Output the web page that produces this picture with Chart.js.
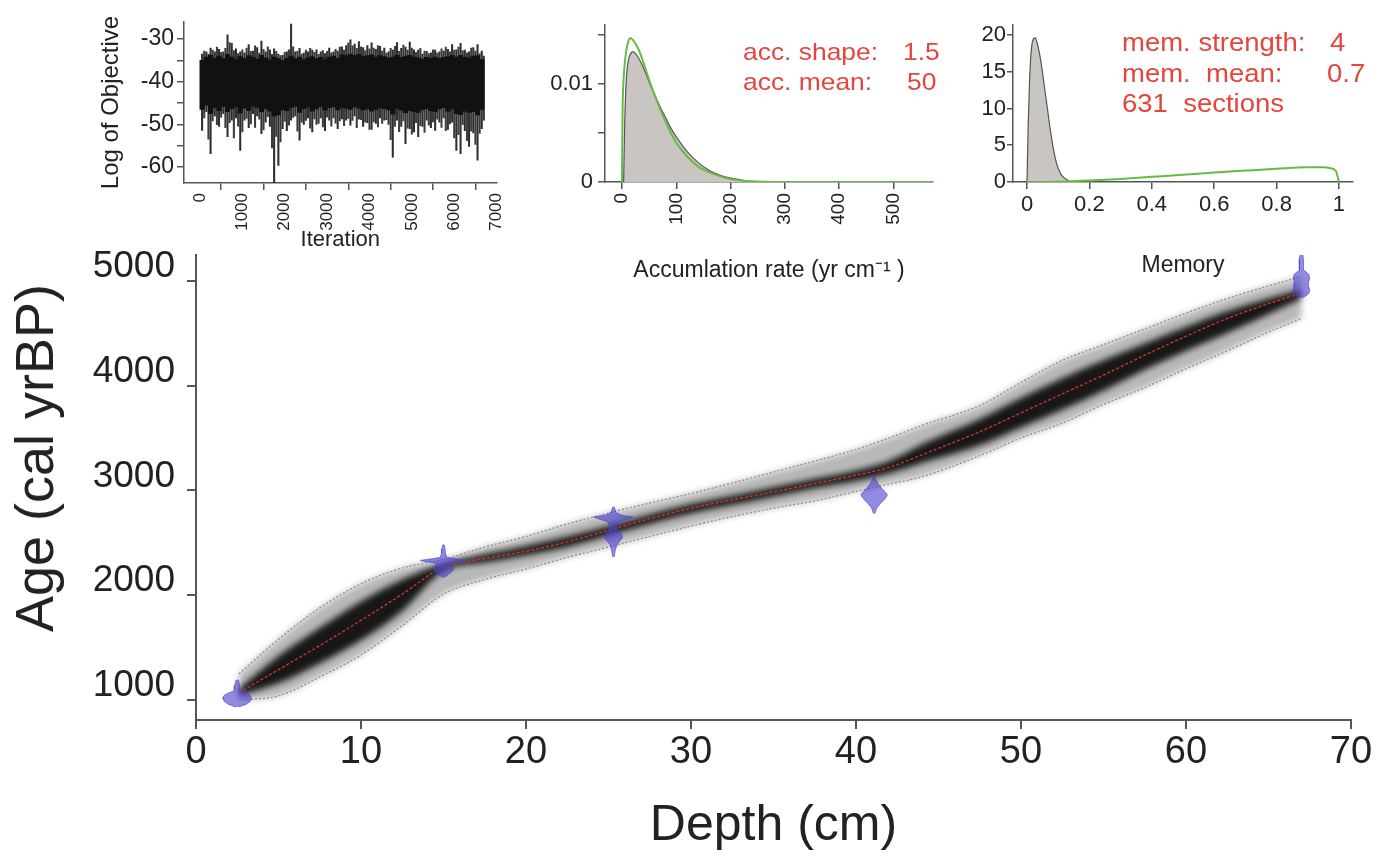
<!DOCTYPE html>
<html>
<head>
<meta charset="utf-8">
<script src="https://cdn.jsdelivr.net/npm/chart.js@4.4.1/dist/chart.umd.min.js"></script>
<style>
body { margin: 0; background: #fff; }
#page { position: relative; width: 1391px; height: 856px; overflow: hidden; font-family: "Liberation Sans", Arial, sans-serif; }
canvas { position: absolute; }
.red { position: absolute; color: #e3463e; white-space: pre; line-height: 26px; transform-origin: left center; transform: scaleX(1.1); }
#ageTitle { position: absolute; left: 34px; top: 458px; font-size: 54px; line-height: 1; color: #222; white-space: nowrap; transform: translate(-50%, -50%) rotate(-90deg); }
</style>
</head>
<body>
<div id="page">
  <canvas id="shade" width="1391" height="856" style="left:0;top:0;filter:blur(3px)"></canvas>
  <canvas id="age" width="1391" height="856" style="left:0;top:0"></canvas>
  <canvas id="trace" width="460" height="256" style="left:60px;top:0"></canvas>
  <canvas id="acc" width="440" height="290" style="left:520px;top:0"></canvas>
  <canvas id="mem" width="431" height="290" style="left:960px;top:0"></canvas>
  <div id="ageTitle">Age (cal yrBP)</div>
  <div class="red" style="left:743px;top:39px;font-size:24px">acc. shape:</div>
  <div class="red" style="left:903px;top:39px;font-size:24px">1.5</div>
  <div class="red" style="left:743px;top:69px;font-size:24px">acc. mean:</div>
  <div class="red" style="left:907px;top:69px;font-size:24px">50</div>
  <div class="red" style="left:1122px;top:29px;font-size:25px">mem. strength:</div>
  <div class="red" style="left:1330px;top:29px;font-size:25px">4</div>
  <div class="red" style="left:1122px;top:60px;font-size:25px">mem.  mean:</div>
  <div class="red" style="left:1327px;top:60px;font-size:25px">0.7</div>
  <div class="red" style="left:1122px;top:90px;font-size:25px">631  sections</div>
</div>
<script>
const FONT = '"Liberation Sans", Arial, sans-serif';

// tick values
const depthTicks = [0, 10, 20, 30, 40, 50, 60, 70];
const ageTicks = [1000, 2000, 3000, 4000, 5000];
const iterTicks = [0, 1000, 2000, 3000, 4000, 5000, 6000, 7000];
const objTicks = [-60, -55, -50, -45, -40, -35, -30];
const accTicks = [0, 100, 200, 300, 400, 500];
const accDensTicks = [0, 0.005, 0.01, 0.015];
const memTicks = [0, 0.2, 0.4, 0.6, 0.8, 1];
const memDensTicks = [0, 5, 10, 15, 20];

// MCMC trace, read per 100-iteration bin
const traceIter = [50,150,250,350,450,550,650,750,850,950,
  1050,1150,1250,1350,1450,1550,1650,1750,1850,1950,
  2050,2150,2250,2350,2450,2550,2650,2750,2850,2950,
  3050,3150,3250,3350,3450,3550,3650,3750,3850,3950,
  4050,4150,4250,4350,4450,4550,4650,4750,4850,4950,
  5050,5150,5250,5350,5450,5550,5650,5750,5850,5950,
  6050,6150,6250,6350,6450,6550,6650];
const traceHi = [-33.5,-33,-32.1,-33,-32.4,-33,-29.0,-31,-32.3,-33,
  -33.2,-31.3,-32.8,-32,-30.5,-33,-32.5,-32.3,-33.5,-33.8,
  -33,-26.5,-33,-32.2,-33.3,-33,-32.6,-32.5,-33,-33.4,
  -32.1,-33,-32.8,-31.8,-31.5,-30.2,-31.2,-30.6,-32,-31.5,
  -30.9,-32.4,-31.7,-32.1,-33,-32.6,-30.8,-32.2,-31.9,-30.7,
  -32.5,-32.6,-33.5,-32.9,-33.2,-32.6,-33,-32.8,-32.4,-31.3,
  -32.5,-31,-32.6,-33,-32,-31.3,-32.8];
const traceLo = [-51.4,-47,-56.9,-48,-50.5,-47.5,-52.9,-49,-48.5,-56.1,
  -49,-50.8,-47.5,-48,-52.2,-49.5,-50.5,-63.7,-59.6,-51,
  -51.5,-49,-48,-53.7,-50,-48.5,-51.8,-50,-48.5,-51.5,
  -49,-48.5,-51,-48.7,-49,-50.2,-48,-48.8,-50.5,-49.6,
  -51.2,-49.8,-48.5,-49,-50,-57.7,-49,-50.5,-54.5,-51,
  -51.8,-52.9,-50.5,-49,-50.8,-51.4,-49.5,-48.5,-51.2,-49.5,
  -56.1,-56.9,-51.5,-55.2,-52,-58.4,-51];
const traceCoreHi = [-35,-34.2,-33.8,-34.5,-34,-34.6,-33.6,-34.2,-34.8,-34.1,
  -34.5,-33.9,-34.3,-34.7,-33.8,-34.4,-34.9,-34.2,-34.6,-35,
  -34.5,-34,-34.6,-34.2,-34.8,-34.4,-34.1,-34.6,-34.3,-34.8,
  -34.2,-34,-34.5,-33.7,-33.9,-33.5,-33.8,-33.6,-34.1,-33.9,
  -33.7,-34.2,-33.9,-34.1,-34.4,-34.2,-33.8,-34.3,-34,-33.8,
  -34.2,-34.4,-34.7,-34.3,-34.6,-34.2,-34.5,-34.3,-34.1,-33.9,
  -34.2,-33.8,-34.3,-34.5,-34,-33.9,-34.8];
const traceCoreLo = [-46.5,-45.5,-47.5,-46,-46.8,-45.8,-47,-46.3,-45.9,-47.4,
  -46.2,-46.8,-45.7,-46,-47,-46.4,-46.9,-48,-47.8,-46.6,
  -46.8,-46.1,-45.8,-47.2,-46.3,-45.9,-46.9,-46.4,-45.8,-46.7,
  -46.1,-45.9,-46.6,-46,-46.2,-46.5,-45.9,-46.2,-46.6,-46.4,
  -46.9,-46.5,-46,-46.3,-46.6,-47.6,-46.2,-46.7,-47.3,-46.8,
  -47,-47.2,-46.6,-46.3,-46.8,-47,-46.4,-46.1,-46.9,-46.4,
  -47.5,-47.7,-46.9,-47.2,-47,-47.8,-46.5];
// second set of spikes, at the bin edges
const traceEdge = [100,200,300,400,500,600,700,800,900,1000,
  1100,1200,1300,1400,1500,1600,1700,1800,1900,2000,
  2100,2200,2300,2400,2500,2600,2700,2800,2900,3000,
  3100,3200,3300,3400,3500,3600,3700,3800,3900,4000,
  4100,4200,4300,4400,4500,4600,4700,4800,4900,5000,
  5100,5200,5300,5400,5500,5600,5700,5800,5900,6000,
  6100,6200,6300,6400,6500,6600,6700];
const traceMidHi = [-32.8,-33.5,-32.6,-31.9,-33.1,-32.2,-30.8,-32.7,-33.4,-32.5,
  -32.1,-32.9,-31.6,-33.3,-32.4,-31.8,-33.6,-32.9,-33.9,-33.1,
  -32.5,-31.8,-32.9,-33.5,-32.6,-32.2,-33.1,-33.6,-32.7,-32.9,
  -33.2,-32.4,-31.9,-32.6,-30.9,-31.6,-32.2,-31.8,-32.7,-32.3,
  -32.1,-31.5,-32.8,-33.3,-32.2,-31.7,-32.9,-31.4,-32.6,-32.1,
  -33.1,-32.2,-32.8,-33.4,-32.5,-33.2,-32.3,-31.9,-33,-32.6,
  -31.9,-32.7,-33.2,-32.1,-32.8,-33.4,-34];
const traceMidLo = [-48.5,-53.5,-49.2,-50.1,-48.3,-50.8,-49.6,-53.2,-50.4,-51.8,
  -48.6,-49.9,-50.7,-48.8,-51.3,-48.2,-55.5,-52.8,-54.1,-49.3,
  -50.2,-48.4,-51.6,-49.5,-49.1,-50.9,-48.7,-49.8,-50.6,-48.3,
  -50.4,-49.7,-49.2,-50.3,-48.6,-49.1,-50.8,-48.9,-49.5,-51.2,
  -49.4,-50.6,-49.8,-48.9,-53.6,-50.5,-51.7,-49.2,-50.9,-52.3,
  -49.6,-50.3,-51.9,-50.2,-49.4,-48.8,-50.7,-51.5,-49.9,-53.2,
  -52.4,-50.1,-53.8,-51.6,-54.7,-52.1,-49];

// accumulation rate: prior (green) and posterior (grey)
const accPriorX = [0,1,3,6,10,15,20,30,40,50,60,70,80,90,100,120,140,160,180,200,220,240,260,300,400,500,575];
const accPrior  = [0,0.0070,0.0105,0.0126,0.0140,0.0147,0.0145,0.0136,0.0121,0.0104,0.0089,0.0075,0.0062,0.0050,0.0040,0.0026,0.0016,0.0010,0.0006,0.0003,0.00015,0.00007,0.00003,0,0,0,0];
const accPostX = [3,5,8,12,16,20,25,30,40,50,60,70,80,90,100,120,140,160,180,200,220,240];
const accPost  = [0,0.0060,0.0105,0.0125,0.0131,0.0133,0.0131,0.0127,0.0116,0.0102,0.0089,0.0077,0.0066,0.0055,0.0046,0.0031,0.0020,0.0012,0.0007,0.0004,0.0002,0];

// memory: prior (green) and posterior (grey)
const memPriorX = [0,0.1,0.2,0.3,0.4,0.5,0.6,0.7,0.8,0.9,0.95,0.97,0.99,1.0];
const memPrior  = [0,0.05,0.2,0.42,0.7,0.98,1.28,1.55,1.8,2.0,2.0,1.9,1.5,0];
const memPostX = [0,0.004,0.008,0.012,0.016,0.021,0.026,0.032,0.04,0.047,0.055,0.066,0.075,0.085,0.095,0.107,0.118,0.128,0.14];
const memPost  = [0,8,13.5,17,18.8,19.5,19.6,19,17.5,15.7,13.2,9.8,7,4.4,2.5,1.2,0.6,0.3,0];

// age-depth model
const depthKnots = [2.6,5,7.5,10,12.5,15,17.5,20,22.5,25,27.5,30,32.5,35,37.5,40,42,44,47.5,50,52.5,55,57.5,60,62.5,65,67];
const ageMean = [1070,1290,1520,1760,2010,2270,2350,2420,2510,2620,2730,2830,2910,2985,3065,3145,3220,3340,3560,3740,3920,4100,4290,4470,4640,4780,4880];
const ageHi95 = [1250,1580,1880,2110,2260,2340,2460,2560,2680,2784,2880,2970,3070,3175,3280,3390,3500,3620,3810,4030,4240,4390,4540,4690,4830,4950,5040];
const ageLo95 = [1000,1040,1220,1430,1710,2010,2150,2250,2360,2460,2560,2660,2750,2830,2900,2990,3060,3130,3330,3500,3640,3820,3980,4160,4330,4510,4640];
const ageCoreHi = [1110,1420,1690,1940,2150,2300,2390,2470,2560,2660,2770,2870,2950,3030,3110,3190,3280,3440,3680,3880,4070,4240,4400,4560,4710,4830,4920];
const ageCoreLo = [1040,1160,1350,1570,1850,2230,2310,2380,2460,2570,2680,2780,2860,2940,3020,3090,3160,3260,3430,3600,3770,3950,4150,4330,4500,4680,4830];

// calibrated dates: depth, ages and half-width of the probability shape (cm)
const dateDepth = [2.5, 15.0, 25.3, 41.1, 67.0];
const date1Age  = [935,960,990,1010,1030,1050,1070,1085,1100,1140,1190];
const date1Half = [0.1,0.55,0.8,0.85,0.85,0.75,0.5,0.25,0.18,0.15,0.08];
const date2Age  = [2170,2200,2230,2260,2290,2310,2322,2332,2345,2360,2400,2440,2480];
const date2Half = [0.08,0.3,0.55,0.6,0.45,0.55,1.2,1.4,0.8,0.2,0.12,0.1,0.05];
const date3Age  = [2365,2420,2480,2520,2550,2580,2610,2650,2700,2728,2745,2762,2790,2840];
const date3Half = [0.05,0.1,0.2,0.4,0.55,0.5,0.3,0.2,0.35,0.9,1.2,0.5,0.15,0.05];
const date4Age  = [2780,2830,2870,2910,2940,2960,2990,3020,3060,3100,3130];
const date4Half = [0.05,0.15,0.35,0.6,0.75,0.8,0.65,0.45,0.25,0.12,0.05];
const date5Age  = [4840,4870,4900,4940,4980,5020,5060,5080,5100,5150,5200,5250];
const date5Half = [0.1,0.4,0.5,0.45,0.42,0.5,0.45,0.3,0.15,0.1,0.15,0.08];

const dateAges = [date1Age, date2Age, date3Age, date4Age, date5Age];
const dateHalves = [date1Half, date2Half, date3Half, date4Half, date5Half];

function pts(xs, ys) {
  return xs.map((x, i) => ({ x: x, y: ys[i] }));
}

function datePolygon(k) {
  const d = dateDepth[k], a = dateAges[k], w = dateHalves[k];
  const right = a.map((age, i) => ({ x: d + w[i], y: age }));
  const left = a.map((age, i) => ({ x: d - w[i], y: age })).reverse();
  return right.concat(left);
}

function fixedTicks(values) {
  return s => { s.ticks = values.map(v => ({ value: v })); };
}

const noPlugins = { legend: { display: false }, tooltip: { enabled: false } };

function ageScales(visible) {
  const ink = visible ? '#222' : 'rgba(0,0,0,0)';
  const line = visible ? '#555' : 'rgba(0,0,0,0)';
  return {
    x: {
      type: 'linear', min: 0, max: 70,
      afterBuildTicks: fixedTicks(depthTicks),
      afterFit: s => { s.height = 136; },
      border: { display: true, color: line, width: 2 },
      grid: { drawOnChartArea: false, tickLength: 9, color: line, lineWidth: 2 },
      ticks: { autoSkip: false, maxRotation: 0, padding: 1,
        color: ink, font: { size: 38, family: FONT }, callback: v => String(v) },
      title: { display: true, text: 'Depth (cm)', color: ink, font: { size: 50, family: FONT }, padding: { top: 0, bottom: 0 } }
    },
    y: {
      min: 810, max: 5245,
      afterBuildTicks: fixedTicks(ageTicks),
      afterFit: s => { s.width = 196; },
      border: { display: true, color: line, width: 2 },
      grid: { drawOnChartArea: false, tickLength: 9, color: line, lineWidth: 2 },
      ticks: { autoSkip: false, padding: 12, labelOffset: -14,
        color: ink, font: { size: 37, family: FONT }, callback: v => String(v) }
    }
  };
}

const ageLayout = { padding: { left: 0, right: 40, top: 255, bottom: 0 } };

// blurred grey shading of the age model
new Chart(document.getElementById('shade'), {
  type: 'line',
  data: {
    datasets: [
      { data: pts(depthKnots, ageCoreHi), fill: '+1', backgroundColor: 'rgba(0,0,0,0.88)', borderWidth: 0, pointRadius: 0, cubicInterpolationMode: 'monotone' },
      { data: pts(depthKnots, ageCoreLo), fill: false, borderWidth: 0, pointRadius: 0, cubicInterpolationMode: 'monotone' },
      { data: pts(depthKnots, ageHi95), fill: '+1', backgroundColor: 'rgba(0,0,0,0.28)', borderWidth: 0, pointRadius: 0, cubicInterpolationMode: 'monotone' },
      { data: pts(depthKnots, ageLo95), fill: false, borderWidth: 0, pointRadius: 0, cubicInterpolationMode: 'monotone' }
    ]
  },
  options: { responsive: false, animation: false, devicePixelRatio: 1, layout: ageLayout, plugins: noPlugins, scales: ageScales(false) }
});

// axes, bounds, mean and dates
const dateSets = dateDepth.map((d, k) => ({
  data: datePolygon(k), fill: 'shape', backgroundColor: 'rgba(72,62,205,0.6)',
  borderColor: 'rgba(72,62,205,0.6)', borderWidth: 1, pointRadius: 0, tension: 0
}));

new Chart(document.getElementById('age'), {
  type: 'line',
  data: {
    datasets: dateSets.concat([
      { data: pts(depthKnots, ageMean), borderColor: '#d9342b', borderWidth: 1.3, borderDash: [3, 2], pointRadius: 0, fill: false, cubicInterpolationMode: 'monotone' },
      { data: pts(depthKnots, ageHi95), borderColor: '#8a8a8a', borderWidth: 1.2, borderDash: [2, 2], pointRadius: 0, fill: false, cubicInterpolationMode: 'monotone' },
      { data: pts(depthKnots, ageLo95), borderColor: '#8a8a8a', borderWidth: 1.2, borderDash: [2, 2], pointRadius: 0, fill: false, cubicInterpolationMode: 'monotone' }
    ])
  },
  options: { responsive: false, animation: false, devicePixelRatio: 1, layout: ageLayout, plugins: noPlugins, scales: ageScales(true) }
});

// top left: log objective trace
new Chart(document.getElementById('trace'), {
  type: 'bar',
  data: {
    datasets: [
      { data: traceIter.map((it, i) => ({ x: it, y: [traceCoreLo[i], traceCoreHi[i]] })), backgroundColor: '#111', borderWidth: 0, barThickness: 4.5, grouped: false },
      { data: traceIter.map((it, i) => ({ x: it, y: [traceLo[i], traceHi[i]] })), backgroundColor: '#2e2e2e', borderWidth: 0, barThickness: 1.4, grouped: false },
      { data: traceEdge.map((it, i) => ({ x: it, y: [traceMidLo[i], traceMidHi[i]] })), backgroundColor: '#3c3c3c', borderWidth: 0, barThickness: 1.4, grouped: false }
    ]
  },
  options: {
    responsive: false, animation: false, devicePixelRatio: 1,
    layout: { padding: { left: 0, right: 23, top: 22, bottom: 0 } },
    plugins: noPlugins,
    scales: {
      x: {
        type: 'linear', min: -377, max: 7000, offset: false,
        afterBuildTicks: fixedTicks(iterTicks),
        afterFit: s => { s.height = 73; },
        border: { color: '#555', width: 1.5 },
        grid: { drawOnChartArea: false, tickLength: 7, color: '#555', lineWidth: 1.5 },
        ticks: { autoSkip: false, minRotation: 90, maxRotation: 90, padding: 3,
          color: '#222', font: { size: 17, family: FONT }, callback: v => String(v) },
        title: { display: true, text: 'Iteration', color: '#222', font: { size: 22, family: FONT }, padding: { top: 0, bottom: 3 } }
      },
      y: {
        min: -63.75, max: -26,
        afterBuildTicks: fixedTicks(objTicks),
        afterFit: s => { s.width = 124; },
        border: { color: '#555', width: 1.5 },
        grid: { drawOnChartArea: false, tickLength: 7, color: '#555', lineWidth: 1.5 },
        ticks: { autoSkip: false, padding: 3, color: '#222', font: { size: 23, family: FONT },
          callback: v => (v % 10 === 0 ? String(v) : '') },
        title: { display: true, text: 'Log of Objective', color: '#222', font: { size: 24, family: FONT }, padding: { top: 37, bottom: 0 } }
      }
    }
  }
});

// top middle: accumulation rate
new Chart(document.getElementById('acc'), {
  type: 'line',
  data: {
    datasets: [
      { data: pts(accPriorX, accPrior), borderColor: '#66bb44', borderWidth: 2, pointRadius: 0, fill: false, cubicInterpolationMode: 'monotone' },
      { data: pts(accPostX, accPost), borderColor: '#555', borderWidth: 1.2, backgroundColor: '#c9c5c1', pointRadius: 0, fill: 'origin', cubicInterpolationMode: 'monotone' }
    ]
  },
  options: {
    responsive: false, animation: false, devicePixelRatio: 1,
    layout: { padding: { left: 0, right: 27, top: 25, bottom: 0 } },
    plugins: noPlugins,
    scales: {
      x: {
        type: 'linear', min: -31.3, max: 572.7,
        afterBuildTicks: fixedTicks(accTicks),
        afterFit: s => { s.height = 108; },
        border: { color: '#555', width: 1.5 },
        grid: { drawOnChartArea: false, tickLength: 7, color: '#555', lineWidth: 1.5 },
        ticks: { autoSkip: false, minRotation: 90, maxRotation: 90, padding: 4,
          color: '#222', font: { size: 19, family: FONT }, callback: v => String(v) },
        title: { display: true, text: 'Accumlation rate (yr cm\u207B\u00B9 )', color: '#222', font: { size: 23, family: FONT }, padding: { top: 0, bottom: 6 } }
      },
      y: {
        min: 0, max: 0.01602,
        afterBuildTicks: fixedTicks(accDensTicks),
        afterFit: s => { s.width = 85; },
        border: { color: '#555', width: 1.5 },
        grid: { drawOnChartArea: false, tickLength: 7, color: '#555', lineWidth: 1.5 },
        ticks: { autoSkip: false, padding: 5, color: '#222', font: { size: 22, family: FONT },
          callback: v => (v === 0 ? '0' : (v === 0.01 ? '0.01' : '')) }
      }
    }
  }
});

// top right: memory
new Chart(document.getElementById('mem'), {
  type: 'line',
  data: {
    datasets: [
      { data: pts(memPriorX, memPrior), borderColor: '#66bb44', borderWidth: 2, pointRadius: 0, fill: false, cubicInterpolationMode: 'monotone' },
      { data: pts(memPostX, memPost), borderColor: '#555', borderWidth: 1.2, backgroundColor: '#c9c5c1', pointRadius: 0, fill: 'origin', cubicInterpolationMode: 'monotone' }
    ]
  },
  options: {
    responsive: false, animation: false, devicePixelRatio: 1,
    layout: { padding: { left: 0, right: 38, top: 25, bottom: 0 } },
    plugins: noPlugins,
    scales: {
      x: {
        type: 'linear', min: -0.0449, max: 1.0449,
        afterBuildTicks: fixedTicks(memTicks),
        afterFit: s => { s.height = 108; },
        border: { color: '#555', width: 1.5 },
        grid: { drawOnChartArea: false, tickLength: 7, color: '#555', lineWidth: 1.5 },
        ticks: { autoSkip: false, maxRotation: 0, padding: 3,
          color: '#222', font: { size: 22, family: FONT }, callback: v => String(v) },
        title: { display: true, text: 'Memory', color: '#222', font: { size: 23, family: FONT }, padding: { top: 0, bottom: 11 } }
      },
      y: {
        min: 0, max: 21.36,
        afterBuildTicks: fixedTicks(memDensTicks),
        afterFit: s => { s.width = 53; },
        border: { color: '#555', width: 1.5 },
        grid: { drawOnChartArea: false, tickLength: 6, color: '#555', lineWidth: 1.5 },
        ticks: { autoSkip: false, padding: 1, color: '#222', font: { size: 22, family: FONT }, callback: v => String(v) }
      }
    }
  }
});
</script>
</body>
</html>
